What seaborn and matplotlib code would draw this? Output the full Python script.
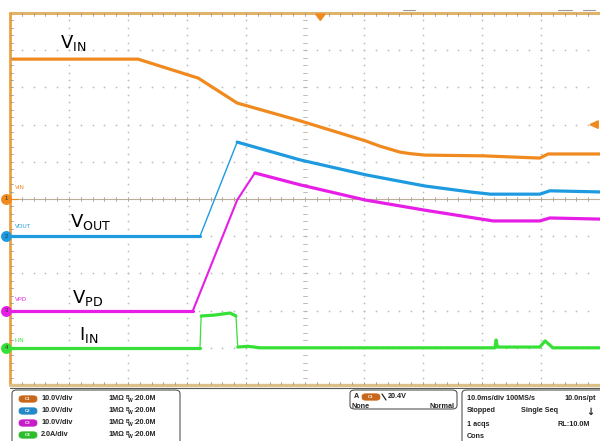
import numpy as np
import pandas as pd
import matplotlib
matplotlib.use("Agg")
import matplotlib.pyplot as plt
import seaborn as sns
from matplotlib.patches import FancyBboxPatch, Polygon

# ---------------- data (time in ms, values in channel units) ----------------
vin_t = [0, 21.7, 31.9, 38.5, 49.2, 60.3, 62.7, 66.1, 67.8, 70.3, 80.2, 89.8, 91.2, 100]
vin_v = [37.6, 37.6, 32.5, 25.8, 21.0, 15.6, 14.2, 12.6, 12.2, 11.8, 11.6, 11.0, 12.1, 12.1]

vout_t = [0, 32.2, 38.5, 49.2, 60.3, 70.3, 78.0, 81.4, 89.8, 91.5, 100]
vout_v = [0, 0, 25.3, 20.5, 16.5, 13.5, 11.9, 11.3, 11.3, 12.2, 11.9]

vpd_t = [0, 31.0, 38.5, 41.5, 49.2, 60.3, 70.3, 81.9, 89.8, 91.5, 100]
vpd_v = [0, 0, 29.7, 37.0, 33.8, 29.7, 27.0, 24.1, 24.1, 24.9, 24.6]

iin_t = [0, 32.2, 32.4, 34.7, 37.3, 38.3, 38.6, 40.3, 42.4, 82.2, 82.4, 82.6, 89.8, 90.7, 92.0, 100]
iin_v = [0, 0, 1.71, 1.76, 1.87, 1.71, 0.04, 0.08, 0, 0, 0.42, 0.04, 0.04, 0.37, 0, 0]

channels = ["VIN", "VOUT", "VPD", "I-IN"]
ch_scale = [10.0, 10.0, 10.0, 2.0]        # units per division
ch_offset = [5.0, 4.0, 2.0, 1.0]          # ground marker position (div)
ch_colors = ["#f08a1e", "#1e9be0", "#e61ee6", "#36e036"]
ch_labels = ["V$_{\\mathregular{IN}}$", "V$_{\\mathregular{OUT}}$",
             "V$_{\\mathregular{PD}}$", "I$_{\\mathregular{IN}}$"]
label_pos = [(0.85, 9.2), (1.02, 4.38), (1.05, 2.33), (1.17, 1.35)]
ch_settings = ["10.0V/div", "10.0V/div", "10.0V/div", "2.0A/div"]
time_per_div = 10.0

traces = [(vin_t, vin_v), (vout_t, vout_v), (vpd_t, vpd_v), (iin_t, iin_v)]
# fast edges are drawn thinner (index ranges into each trace), style only
thin_edges = [[], [(1, 2, 1.0)], [(1, 3, 1.5)], [(1, 2, 0.9), (5, 6, 0.9)]]

# ---------------- figure ----------------
sns.set_style("white")
plt.rcParams["font.family"] = ["Liberation Sans", "DejaVu Sans"]
plt.rcParams["mathtext.default"] = "regular"

W, H = 600, 441
fig = plt.figure(figsize=(6.0, 4.41), dpi=100)
fig.patch.set_facecolor("white")
x0, x1, ytop, ybot = 10, 600, 13, 385
ax = fig.add_axes([x0 / W, (H - ybot) / H, (x1 - x0) / W, (ybot - ytop) / H])

# grid dots
gc = "#bdbdbd"
minor = np.arange(1, 50) / 5.0
for gx in [1, 2, 3, 4, 6, 7, 8, 9]:
    ax.scatter(np.full_like(minor, gx), minor, s=1.6, color=gc, lw=0, zorder=1)
for gy in [1, 2, 3, 4, 6, 7, 8, 9]:
    ax.scatter(minor, np.full_like(minor, gy), s=1.6, color=gc, lw=0, zorder=1)

# center crosshair
ax.axhline(5, color="#bcae98", lw=0.8, zorder=1)
for m in minor:
    ax.plot([m, m], [5 - 0.06, 5 + 0.06], color="#a8a098", lw=0.6, zorder=1)
    ax.plot([5 - 0.04, 5 + 0.04], [m, m], color="#b8b0a8", lw=0.6, zorder=1)

# traces
for (t, v), sc, off, col, edges in zip(traces, ch_scale, ch_offset, ch_colors, thin_edges):
    xs = np.array(t) / time_per_div
    ys = off + np.array(v) / sc
    n = len(xs)
    # split into thick / thin pieces
    cuts = [(0, n - 1, 2.3)]
    pieces = []
    start = 0
    for (a, b, w) in edges:
        if a > start:
            pieces.append((start, a, 2.3))
        pieces.append((a, b, w))
        start = b
    if start < n - 1:
        pieces.append((start, n - 1, 2.3))
    if not pieces:
        pieces = cuts
    for a, b, w in pieces:
        df = pd.DataFrame({"x": xs[a:b + 1], "y": ys[a:b + 1]})
        sns.lineplot(data=df, x="x", y="y", sort=False, estimator=None, color=col,
                     lw=w, ax=ax, zorder=3, solid_capstyle="round")

ax.set_xlim(0, 10)
ax.set_ylim(0, 10)
ax.axis("off")

# big labels
for (lx, ly), lab in zip(label_pos, ch_labels):
    ax.text(lx, ly, lab, fontsize=13, color="black", va="center", ha="left",
            family=["DejaVu Sans"], zorder=5)

# small channel names near markers
small_pos = [5.3, 4.25, 2.3, 1.2]
for sy, name, col in zip(small_pos, channels, ch_colors):
    ax.text(0.08, sy, name, fontsize=4.2, color=col, va="center", ha="left", zorder=5)

# borders
ax.plot([0, 10], [10, 10], color="#e0b468", lw=2.2, clip_on=False, zorder=4)
ax.plot([0, 0], [0, 10], color="#eea040", lw=2.0, clip_on=False, zorder=4)
ax.plot([0, 10], [0, 0], color="#dcc088", lw=2.4, clip_on=False, zorder=4)
ax.plot([0, 10], [-0.07, -0.07], color="#555555", lw=0.8, clip_on=False, zorder=4)
for m in np.arange(1, 50) / 5.0:
    ax.plot([m, m], [10, 10 - 0.09], color="#999999", lw=0.6, zorder=4)
    ax.plot([m, m], [0, 0 + 0.09], color="#999999", lw=0.6, zorder=4)
    ax.plot([0, 0.05], [m, m], color="#999999", lw=0.6, zorder=4)

# channel ground markers
for off, col, i in zip(ch_offset, ch_colors, range(4)):
    ax.plot([-0.06, 0.13], [off, off], color=col, lw=0.8, clip_on=False, zorder=5)
    ax.scatter([-0.065], [off], s=62, color=col, lw=0, clip_on=False, zorder=6)
    ax.text(-0.065, off, str(i + 1), fontsize=4.2, color="#333333", ha="center",
            va="center", zorder=7, clip_on=False)

# trigger markers
ax.add_patch(Polygon([[5.18, 9.97], [5.34, 9.97], [5.26, 9.8]], closed=True,
                     color="#f08a1e", zorder=6, clip_on=False))
ax.add_patch(Polygon([[9.83, 7.0], [9.97, 7.1], [9.97, 6.9]], closed=True,
                     color="#f08a1e", zorder=6, clip_on=False))
for a, b in [(403, 415), (558, 572), (583, 595)]:
    fig.add_artist(plt.Line2D([a / W, b / W], [(H - 10) / H, (H - 10) / H],
                              color="#999999", lw=0.8))

# ---------------- bottom info panel ----------------
def fx(px):
    return px / W

def fy(py):
    return (H - py) / H

def rbox(xa, ya, xb, yb):
    fig.add_artist(FancyBboxPatch((fx(xa), fy(yb)), fx(xb) - fx(xa), fy(ya) - fy(yb),
                                  boxstyle="round,pad=0,rounding_size=0.008",
                                  fc="white", ec="#555555", lw=0.8,
                                  transform=fig.transFigure))

def pill(xa, yc, col, txt):
    fig.add_artist(FancyBboxPatch((fx(xa), fy(yc + 3.2)), fx(18), fy(0) - fy(6.4),
                                  boxstyle="round,pad=0,rounding_size=0.006",
                                  fc=col, ec=col, lw=0.5, transform=fig.transFigure))
    fig.text(fx(xa + 9), fy(yc), txt, fontsize=3.2, color="#ffffff", ha="center",
             va="center", weight="bold")

def t(px, py, s, ha="left", size=5.2):
    fig.text(fx(px), fy(py), s, fontsize=size, weight="bold", color="#222222",
             ha=ha, va="center")

rbox(12, 390, 180, 446)
rows = [399, 411, 423, 435]
pill_cols = ["#c8661a", "#2488c8", "#c81cc8", "#2cbc2c"]
for i, ry in enumerate(rows):
    pill(19, ry, pill_cols[i], "C%d" % (i + 1))
    t(41, ry, ch_settings[i])
    t(108, ry, "1M\u03a9")
    t(125.5, ry - 1.6, "B", size=3.6)
    t(128, ry + 1.2, "W", size=3.6)
    t(133, ry, ":20.0M")

rbox(350, 390, 457, 409)
t(354, 397, "A")
pill(362, 397, pill_cols[0], "C1")
fig.add_artist(plt.Line2D([fx(382), fx(386)], [fy(394), fy(400)], color="#222222", lw=0.9))
t(388, 397, "20.4V")
t(352, 406, "None")
t(454, 406, "Normal", ha="right")

rbox(462, 390, 604, 446)
t(467, 398, "10.0ms/div 100MS/s")
t(596, 398, "10.0ns/pt", ha="right")
t(467, 411, "Stopped")
t(521, 411, "Single Seq")
fig.text(fx(590), fy(412), "\u2193", fontsize=7, weight="bold", color="#222222",
         ha="center", va="center", family=["DejaVu Sans"])
t(467, 424, "1 acqs")
t(590, 424, "RL:10.0M", ha="right")
t(467, 436, "Cons")

fig.savefig("out.png", dpi=100, facecolor="white")
